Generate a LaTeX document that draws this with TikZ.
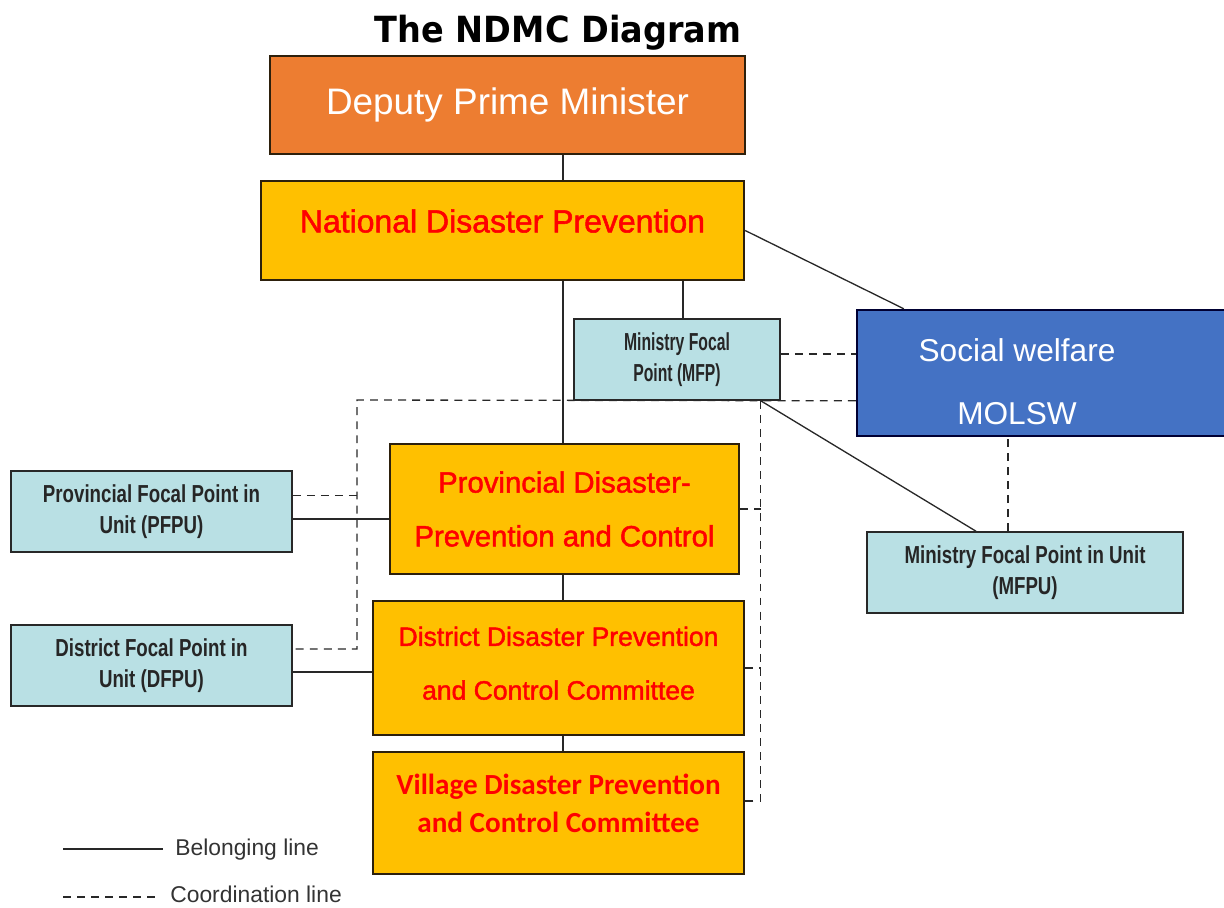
\documentclass[tikz,border=0pt]{standalone}
\usepackage{fontspec}
\setmainfont{Liberation Sans}
\newfontfamily\narrowfont[FakeStretch=0.76]{Liberation Sans}
\newfontfamily\mfpfont[FakeStretch=0.64]{Liberation Sans}
\newfontfamily\heavyfont[FakeBold=1.6]{Liberation Sans}
\newfontfamily\titlefont[FakeStretch=0.93]{DejaVu Sans}
\newfontfamily\calfont{Carlito}
\definecolor{dpmorange}{RGB}{237,125,49}
\definecolor{unityellow}{RGB}{255,192,0}
\definecolor{focalblue}{RGB}{185,224,228}
\definecolor{swblue}{RGB}{68,114,196}
\definecolor{boxline}{RGB}{45,32,12}
\definecolor{linkgray}{RGB}{40,40,40}
\tikzset{
  orgbox/.style={draw=boxline, line width=1.4pt, fill=unityellow, text=red, align=center, inner sep=0pt},
  focalbox/.style={draw=linkgray, line width=0.9pt, fill=focalblue, align=center, text=black!85,
    font=\narrowfont\bfseries\fontsize{14}{18}\selectfont, minimum width=5.62cm, minimum height=1.62cm, inner sep=0pt},
  belong/.style={draw=linkgray, line width=0.75pt},
  coordline/.style={draw=linkgray, line width=0.75pt, dash pattern=on 4.5pt off 3.5pt},
  legtext/.style={anchor=west, inner sep=0pt, text=black!80, font=\fontsize{13}{15}\selectfont},
}
\begin{document}
\begin{tikzpicture}[x=0.02cm, y=-0.02cm]
\useasboundingbox (0,0) rectangle (1224,907);

\node[font=\titlefont\bfseries\fontsize{20.5}{24}\selectfont] (title) at (558,33) {The NDMC Diagram};

% chain of committees
\node[orgbox, fill=dpmorange, text=white, minimum width=9.5cm, minimum height=1.96cm,
  font=\fontsize{21}{25}\selectfont] (dpm) at (507.5,105) {Deputy Prime Minister};
\node[orgbox, minimum width=9.66cm, minimum height=1.98cm, text depth=11pt,
  font=\heavyfont\fontsize{18.2}{22}\selectfont] (ndp) at (502.5,230.5) {National Disaster Prevention};
\node[orgbox, minimum width=6.98cm, minimum height=2.6cm,
  font=\heavyfont\fontsize{16.7}{30.6}\selectfont] (pdpc) at (564.5,509) {Provincial Disaster-\\Prevention and Control};
\node[orgbox, minimum width=7.42cm, minimum height=2.68cm, text depth=5.6pt,
  font=\heavyfont\fontsize{15.1}{30.6}\selectfont] (ddpc) at (558.5,668) {District Disaster Prevention\\and Control Committee};
\node[orgbox, minimum width=7.42cm, minimum height=2.44cm, text depth=11pt,
  font=\calfont\bfseries\fontsize{16.6}{22}\selectfont] (vdpc) at (558.5,813) {Village Disaster Prevention\\and Control Committee};

% ministry side
\node[draw=black!80!blue, line width=1.4pt, fill=swblue, minimum width=7.42cm, minimum height=2.52cm] (sw) at (1042.5,373) {};
\node[text=white, align=center, font=\fontsize{18}{36}\selectfont] (swtext) at (1017,382) {Social welfare\\MOLSW};
\node[focalbox, minimum width=4.12cm, font=\mfpfont\bfseries\fontsize{14}{17.6}\selectfont] (mfp) at (677,359.5) {Ministry Focal\\Point (MFP)};
\node[focalbox, minimum width=6.32cm] (mfpu) at (1025,572.5) {Ministry Focal Point in Unit\\(MFPU)};

% focal points on the left
\node[focalbox] (pfpu) at (151.5,511.5) {Provincial Focal Point in\\Unit (PFPU)};
\node[focalbox] (dfpu) at (151.5,665.5) {District Focal Point in\\Unit (DFPU)};

% belonging lines
\coordinate (spine) at (563,0);
\draw[belong] (dpm.south -| spine) -- (ndp.north -| spine);
\draw[belong] (ndp.south -| spine) -- (pdpc.north -| spine);
\draw[belong] (pdpc.south -| spine) -- (ddpc.north -| spine);
\draw[belong] (ddpc.south -| spine) -- (vdpc.north -| spine);
\coordinate (mfptop) at ([xshift=0.12cm]mfp.north);
\draw[belong] (mfptop) -- (mfptop |- ndp.south);
\draw[belong] (ndp.east) -- ([xshift=0.96cm]sw.north west);
\coordinate (mfpfoot) at ([xshift=-0.4cm]mfp.south east);
\draw[belong] (mfpfoot) -- ([xshift=-0.98cm]mfpu.north);
\coordinate (pfin) at ([yshift=-0.15cm]pfpu.east);
\draw[belong] (pfin) -- (pfin -| pdpc.west);
\coordinate (dfin) at ([yshift=-0.13cm]dfpu.east);
\draw[belong] (dfin) -- (dfin -| ddpc.west);

% coordination lines
\coordinate (mfpright) at ([yshift=0.11cm]mfp.east);
\draw[coordline] (mfpright) -- (mfpright -| sw.west);
\coordinate (lbus) at (357,400);
\coordinate (pfdash) at ([yshift=0.32cm]pfpu.east);
\coordinate (dfdash) at ([yshift=0.33cm]dfpu.east);
\draw[coordline] (mfp.south -| sw.west) -- (lbus) |- (dfdash);
\draw[coordline] (pfdash) -- (pfdash -| lbus);
\draw[coordline] (mfpfoot) |- ([yshift=0.24cm]vdpc.east);
\draw[coordline] (pdpc.east) -- (pdpc.east -| mfpfoot);
\draw[coordline] (ddpc.east) -- (ddpc.east -| mfpfoot);
\coordinate (mfpuhook) at ([xshift=-0.34cm]mfpu.north);
\draw[coordline] (mfpuhook) -- (mfpuhook |- sw.south);

% legend
\draw[belong, line width=1.6pt] (63,849) coordinate (belA) -- (163,849) coordinate (belB);
\node[legtext] (beltext) at (175,850) {Belonging\ line};
\draw[coordline] (63,897) coordinate (cooA) -- (158,897) coordinate (cooB);
\node[legtext] (cootext) at (170,894) {Coordination\ line};
\end{tikzpicture}
\end{document}
